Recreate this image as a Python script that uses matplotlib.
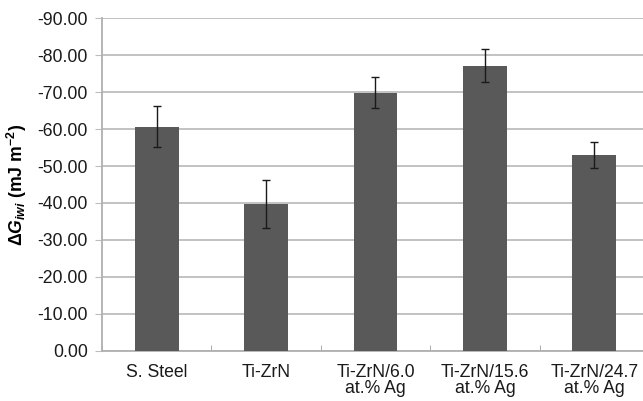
import numpy as np
import matplotlib
matplotlib.use('Agg')
import matplotlib.pyplot as plt
from matplotlib.ticker import MultipleLocator, FormatStrFormatter

# 試料名
samples = ['S. Steel', 'Ti-ZrN', 'Ti-ZrN/6.0\nat.% Ag', 'Ti-ZrN/15.6\nat.% Ag', 'Ti-ZrN/24.7\nat.% Ag']

# 界面自由エネルギー [mJ m^-2]
dG = [-60.7, -39.7, -69.9, -77.2, -53.0]

# 標準偏差
err = [5.5, 6.4, 4.3, 4.4, 3.4]

plt.rcParams['font.family'] = ['Liberation Sans', 'DejaVu Sans']
plt.rcParams['font.size'] = 12.7
plt.rcParams['mathtext.fontset'] = 'custom'
plt.rcParams['mathtext.rm'] = 'Liberation Sans'
plt.rcParams['mathtext.it'] = 'Liberation Sans:italic'
plt.rcParams['mathtext.bf'] = 'Liberation Sans:bold'
plt.rcParams['mathtext.bfit'] = 'Liberation Sans:bold:italic'

fig = plt.figure(figsize=(6.43, 4.01), dpi=100)
ax = fig.add_axes([0.1586, 0.1254, 0.8507, 0.829])

x = np.arange(len(samples))
ax.bar(x, dG, width=0.4, color='#595959', zorder=3)
ax.errorbar(x, dG, yerr=err, fmt='none', ecolor='#1a1a1a', elinewidth=1.0,
            capsize=3, capthick=1.0, zorder=4)

# 軸の範囲と目盛
ax.set_xlim(-0.5, len(samples) - 0.5)
ax.set_ylim(0, -90)
ax.yaxis.set_major_locator(MultipleLocator(10))
ax.yaxis.set_major_formatter(FormatStrFormatter('%.2f'))
ax.grid(axis='y', color='#bdbdbd', lw=1.3, zorder=0)

ax.set_xticks(x)
ax.set_xticklabels(samples, linespacing=0.92)
ax.set_xticks(np.arange(len(samples) + 1) - 0.5, minor=True)
ax.tick_params(axis='x', which='major', length=0, pad=9.5)
ax.tick_params(axis='x', which='minor', length=4, direction='in', color='#9e9e9e')
ax.tick_params(axis='y', length=5, color='#bdbdbd', pad=5)
ax.tick_params(which='both', labelcolor='#1a1a1a')

for s in ['top', 'right']:
    ax.spines[s].set_visible(False)
for s in ['left', 'bottom']:
    ax.spines[s].set_color('#b0b0b0')
    ax.spines[s].set_linewidth(1.3)

ax.set_ylabel(r'$\mathbf{\Delta}\boldsymbol{G}_{\boldsymbol{iwi}}$ (mJ m$^{\mathbf{-2}}$)',
              fontweight='bold', labelpad=6)

fig.savefig('out.png', dpi=100)
